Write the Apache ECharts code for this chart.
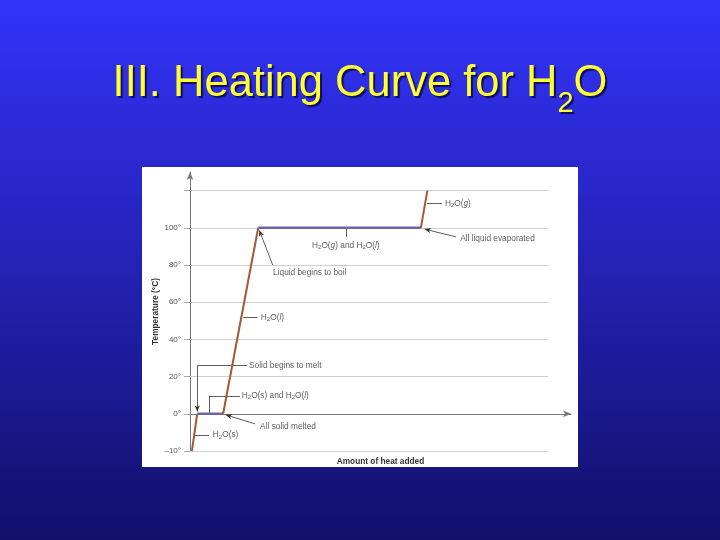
<!DOCTYPE html>
<html>
<head>
<meta charset="utf-8">
<script src="https://cdn.jsdelivr.net/npm/echarts@6/dist/echarts.min.js"></script>
<style>
  html, body { margin: 0; padding: 0; }
  #chart { width: 720px; height: 540px; }
</style>
</head>
<body>
<div id="chart"></div>
<script>
// heat added (arbitrary units, 0..100) and temperature (°C) at each corner of the curve
const heat = [0.5, 1.9, 8.7, 17.9, 60.6, 62.3];
const temps = [-10, 0, 0, 100, 100, 120];

// y tick values (axis units) and the labels shown for them
const tickVals = [-20, 0, 20, 40, 60, 80, 100, 120];
const labelVals = [-20, 0, 20, 40, 60, 80, 100];
const gridVals = [-20, 20, 40, 60, 80, 100, 120];

// the -10..0 band is drawn as tall as a 20° band in the original figure
function toAxis(t) { return t < 0 ? t * 2 : t; }

const heatColor = '#a4573a';
const plateauColor = '#6b64a8';
const ink = '#333';

// curve pieces: rising segments brown, flat (phase change) segments purple
const curveSeries = [];
for (let i = 0; i < heat.length - 1; i++) {
  const flat = temps[i] === temps[i + 1];
  curveSeries.push({
    type: 'line',
    z: 5,
    symbol: 'none',
    lineStyle: { color: flat ? plateauColor : heatColor, width: flat ? 2.4 : 2 },
    data: [[heat[i], toAxis(temps[i])], [heat[i + 1], toAxis(temps[i + 1])]]
  });
}

// annotation texts: [x, y(axis units), rich text, align]
const notes = [
  [66.9, 113, '{t|H}{s|2}{t|O(}{i|g}{t|)}', 'left'],
  [70.9, 94, '{t|All liquid evaporated}', 'left'],
  [40.9, 90.6, '{t|H}{s|2}{t|O(}{i|g}{t|) and H}{s|2}{t|O(}{i|l}{t|)}', 'center'],
  [21.8, 75.7, '{t|Liquid begins to boil}', 'left'],
  [18.6, 51.9, '{t|H}{s|2}{t|O(}{i|l}{t|)}', 'left'],
  [15.5, 25.9, '{t|Solid begins to melt}', 'left'],
  [13.6, 9.7, '{t|H}{s|2}{t|O(s) and H}{s|2}{t|O(}{i|l}{t|)}', 'left'],
  [18.4, -7.0, '{t|All solid melted}', 'left'],
  [6.0, -11.4, '{t|H}{s|2}{t|O(s)}', 'left']
];

// leader lines: [from, to, arrow at end?]
const leaders = [
  [[62.2, 113], [66.1, 113], false],
  [[69.8, 95.1], [61.6, 99.3], true],
  [[40.9, 99.5], [40.9, 95.1], false],
  [[21.7, 80], [18.2, 98.6], true],
  [[14.0, 51.9], [17.7, 51.9], false],
  [[15.0, 25.9], [1.9, 25.9], false],
  [[1.9, 25.9], [1.9, 1.2], true],
  [[13.1, 9.7], [5.1, 9.7], false],
  [[5.1, 9.7], [5.1, 0], false],
  [[17.1, -5.4], [9.4, -0.6], true],
  [[1.2, -11.4], [5.0, -11.4], false]
];

const richText = {
  t: { fontSize: 8.3, color: ink, fontFamily: 'Liberation Sans' },
  i: { fontSize: 8.3, color: ink, fontStyle: 'italic', fontFamily: 'Liberation Sans' },
  s: { fontSize: 6, color: ink, fontFamily: 'Liberation Sans', padding: [4, 0, 0, 0] }
};

const titleShadow = {
  textShadowColor: 'rgba(0,0,40,0.7)', textShadowOffsetX: 2, textShadowOffsetY: 2, textShadowBlur: 1
};

const chart = echarts.init(document.getElementById('chart'));

chart.setOption({
  animation: false,
  backgroundColor: new echarts.graphic.LinearGradient(0, 0, 0, 1, [
    { offset: 0, color: '#3333fa' },
    { offset: 1, color: '#12106a' }
  ]),
  title: {
    left: 'center',
    top: 45,
    text: '{a|III. Heating Curve for H}{b|2}{a|O}',
    textStyle: {
      fontWeight: 'normal',
      rich: {
        a: Object.assign({ fontSize: 43.5, fontWeight: 'normal', color: '#ffff33', fontFamily: 'Liberation Sans' }, titleShadow),
        b: Object.assign({ fontSize: 29, fontWeight: 'normal', color: '#ffff33', fontFamily: 'Liberation Sans', padding: [39, 0, 0, 0] }, titleShadow)
      }
    }
  },
  graphic: [{
    type: 'rect',
    z: -10,
    shape: { x: 142, y: 167, width: 436, height: 300 },
    style: { fill: '#ffffff' }
  }],
  grid: { left: 190, right: 149, top: 172, bottom: 89 },
  xAxis: {
    type: 'value',
    min: 0,
    max: 100,
    name: 'Amount of heat added',
    nameLocation: 'middle',
    nameGap: 7,
    nameTextStyle: { fontSize: 8.3, fontWeight: 'bold', color: ink, fontFamily: 'Liberation Sans' },
    axisLine: { onZero: true, symbol: ['none', 'arrow'], symbolSize: [5, 8], lineStyle: { color: '#777', width: 1 } },
    axisTick: { show: false },
    axisLabel: { show: false },
    splitLine: { show: false }
  },
  yAxis: {
    type: 'value',
    min: -20,
    max: 130,
    name: 'Temperature (°C)',
    nameLocation: 'middle',
    nameGap: 30,
    nameMoveOverlap: false,
    nameTextStyle: { fontSize: 8.3, fontWeight: 'bold', color: ink, fontFamily: 'Liberation Sans' },
    axisLine: { show: true, symbol: ['none', 'arrow'], symbolSize: [5, 8], lineStyle: { color: '#777', width: 1 } },
    axisTick: { show: true, length: 6, customValues: tickVals, lineStyle: { color: '#aaa' } },
    axisLabel: {
      customValues: labelVals,
      margin: 9,
      fontSize: 8,
      color: '#555',
      fontFamily: 'Liberation Sans',
      formatter: v => (v < 0 ? '\u201310°' : v + '°')
    },
    splitLine: { show: false }
  },
  series: [
    {
      type: 'line',
      z: 1,
      data: [],
      markLine: {
        silent: true,
        symbol: ['none', 'none'],
        label: { show: false },
        lineStyle: { color: '#cfcfcf', width: 1, type: 'solid' },
        data: gridVals.map(v => [{ coord: [0, v] }, { coord: [94, v] }])
      }
    },
    ...curveSeries,
    {
      type: 'line',
      z: 6,
      data: [],
      markLine: {
        silent: true,
        label: { show: false },
        lineStyle: { color: ink, width: 0.8, type: 'solid' },
        data: leaders.map(l => [
          { coord: l[0], symbol: 'none' },
          { coord: l[1], symbol: l[2] ? 'arrow' : 'none', symbolSize: [4, 6] }
        ])
      }
    },
    {
      type: 'scatter',
      z: 7,
      symbolSize: 0,
      data: notes.map(n => ({
        value: [n[0], n[1]],
        label: {
          show: true,
          position: n[3] === 'center' ? 'inside' : 'right',
          distance: 0,
          align: n[3],
          verticalAlign: 'middle',
          formatter: n[2],
          rich: richText
        }
      }))
    }
  ]
});
</script>
</body>
</html>
